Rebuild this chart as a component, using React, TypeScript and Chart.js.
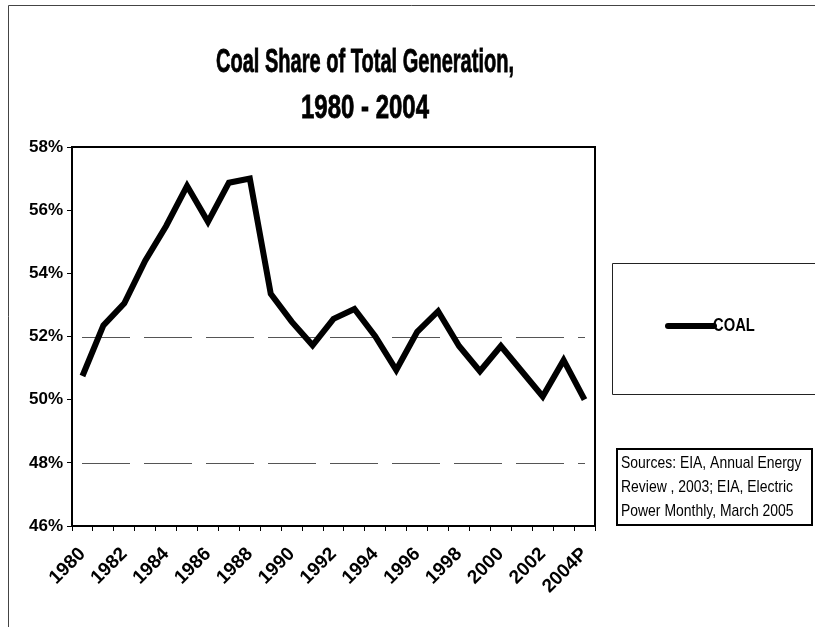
import React, { useEffect, useRef } from "react";
import { Chart, registerables } from "chart.js";

Chart.register(...registerables);

const years = [
  "1980", "1981", "1982", "1983", "1984", "1985", "1986", "1987", "1988", "1989",
  "1990", "1991", "1992", "1993", "1994", "1995", "1996", "1997", "1998", "1999",
  "2000", "2001", "2002", "2003", "2004P",
];
const coalShare = [
  50.75, 52.35, 53.05, 54.4, 55.5, 56.77, 55.63, 56.87, 57.0, 53.35,
  52.47, 51.72, 52.56, 52.87, 52.0, 50.94, 52.15, 52.8, 51.7, 50.9,
  51.7, 50.9, 50.1, 51.25, 50.0,
];
const yMin = 46;
const yMax = 58;
const yStep = 2;
const gridValues = [48, 52];
const titleLines = ["Coal Share of Total Generation,", "1980 - 2004"];
const seriesName = "COAL";
const sourceLines = [
  "Sources: EIA, Annual Energy",
  "Review , 2003; EIA, Electric",
  "Power Monthly, March 2005",
];

function hasFont(name: string): boolean {
  const c = document.createElement("canvas").getContext("2d");
  if (!c) return false;
  const s = "abcdefghijklmnopqrstuvwxyz0123456789";
  c.font = "20px monospace";
  const a = c.measureText(s).width;
  c.font = `20px "${name}", monospace`;
  const b = c.measureText(s).width;
  return Math.abs(a - b) > 0.5;
}

export default function App() {
  const ref = useRef<HTMLCanvasElement | null>(null);

  useEffect(() => {
    document.body.style.margin = "0";
    const narrow = hasFont("Liberation Sans Narrow");
    const fam = narrow ? '"Liberation Sans Narrow"' : '"Liberation Sans", Arial, sans-serif';
    const sx = narrow ? 1 : 0.82;

    const drawText = (
      ctx: CanvasRenderingContext2D, text: string, x: number, y: number,
      size: number, bold: boolean, align: CanvasTextAlign, maxW?: number, heavy?: boolean,
    ) => {
      ctx.save();
      ctx.translate(x, y);
      ctx.scale(sx, 1);
      ctx.font = `${bold ? "bold " : ""}${size}px ${fam}`;
      ctx.textAlign = align;
      ctx.textBaseline = "middle";
      ctx.fillStyle = "#000";
      const mw = maxW ? maxW / sx : undefined;
      if (mw) ctx.fillText(text, 0, 0, mw);
      else ctx.fillText(text, 0, 0);
      if (heavy) {
        ctx.strokeStyle = "#000";
        ctx.lineWidth = 0.8;
        ctx.setLineDash([]);
        if (mw) ctx.strokeText(text, 0, 0, mw);
        else ctx.strokeText(text, 0, 0);
      }
      ctx.restore();
    };

    const decor = {
      id: "decor",
      beforeDatasetsDraw(chart: any) {
        const { ctx, chartArea, scales } = chart;
        ctx.save();
        ctx.strokeStyle = "#555";
        ctx.lineWidth = 1;
        ctx.setLineDash([48, 14]);
        for (const v of gridValues) {
          const y = Math.round(scales.y.getPixelForValue(v)) + 0.5;
          ctx.beginPath();
          ctx.moveTo(chartArea.left + 10, y);
          ctx.lineTo(chartArea.right - 10, y);
          ctx.stroke();
        }
        ctx.restore();
      },
      afterDraw(chart: any) {
        const { ctx, chartArea } = chart;
        ctx.save();
        // outer frame
        ctx.strokeStyle = "#444";
        ctx.lineWidth = 1;
        ctx.beginPath();
        ctx.moveTo(8.5, 627);
        ctx.lineTo(8.5, 5.5);
        ctx.lineTo(815, 5.5);
        ctx.stroke();
        // plot frame
        ctx.strokeStyle = "#000";
        ctx.lineWidth = 2;
        ctx.strokeRect(chartArea.left, chartArea.top, chartArea.right - chartArea.left, chartArea.bottom - chartArea.top);
        // title
        drawText(ctx, titleLines[0], 365, 63, 33, true, "center", 298, true);
        drawText(ctx, titleLines[1], 365, 109, 33, true, "center", 128, true);
        // legend box
        ctx.strokeStyle = "#222";
        ctx.lineWidth = 1;
        ctx.beginPath();
        ctx.moveTo(815, 263.5);
        ctx.lineTo(612.5, 263.5);
        ctx.lineTo(612.5, 394.5);
        ctx.lineTo(815, 394.5);
        ctx.stroke();
        ctx.strokeStyle = "#000";
        ctx.lineWidth = 6;
        ctx.lineCap = "round";
        ctx.beginPath();
        ctx.moveTo(668, 326);
        ctx.lineTo(714, 326);
        ctx.stroke();
        ctx.lineCap = "butt";
        drawText(ctx, seriesName, 713, 326, 18, true, "left", 48);
        // sources box
        ctx.lineWidth = 2;
        ctx.strokeRect(617, 449, 195, 76);
        drawText(ctx, sourceLines[0], 621, 463, 17, false, "left", 188);
        drawText(ctx, sourceLines[1], 621, 487, 17, false, "left", 182);
        drawText(ctx, sourceLines[2], 621, 511, 17, false, "left", 186);
        ctx.restore();
      },
    };

    const chart = new Chart(ref.current as HTMLCanvasElement, {
      type: "line",
      data: {
        labels: years,
        datasets: [
          {
            label: seriesName,
            data: coalShare,
            borderColor: "#000",
            backgroundColor: "#000",
            borderWidth: 6,
            pointRadius: 0,
            tension: 0,
            borderJoinStyle: "miter",
          },
        ],
      },
      options: {
        responsive: false,
        animation: false,
        layout: { padding: { top: 147, right: 220, left: 0, bottom: 0 } },
        plugins: { legend: { display: false }, title: { display: false }, tooltip: { enabled: false } },
        scales: {
          x: {
            offset: true,
            afterFit: (s: any) => { s.height = 101; },
            grid: { offset: true, drawOnChartArea: false, drawTicks: true, tickLength: 5, color: "#000", lineWidth: 1 },
            border: { display: false },
            ticks: {
              autoSkip: false,
              maxRotation: 45,
              minRotation: 45,
              color: "#000",
              padding: 12,
              font: { family: fam, size: 19, weight: "bold" },
              callback: (_v: any, i: number) => (i % 2 === 0 ? years[i] : ""),
            },
          },
          y: {
            min: yMin,
            max: yMax,
            afterFit: (s: any) => { s.width = 72; },
            grid: { drawOnChartArea: false, drawTicks: true, tickLength: 5, color: "#000" },
            border: { display: false },
            ticks: {
              stepSize: yStep,
              color: "#000",
              padding: 4,
              font: { family: fam, size: 17, weight: "bold" },
              callback: (v: any) => `${v}%`,
            },
          },
        },
      },
      plugins: [decor],
    });
    return () => chart.destroy();
  }, []);

  return <canvas ref={ref} width={815} height={627} style={{ display: "block" }} />;
}
